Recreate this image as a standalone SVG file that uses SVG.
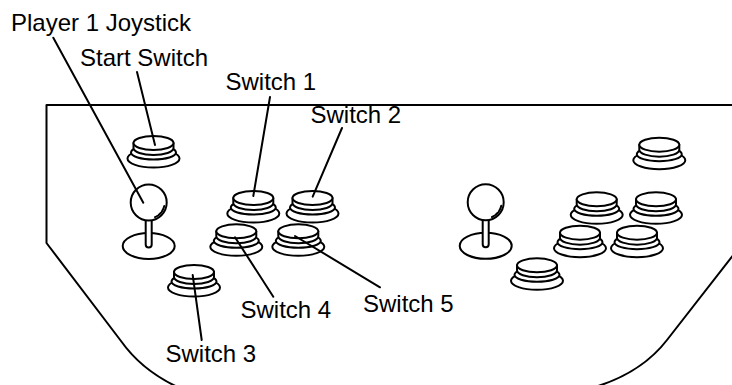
<svg xmlns="http://www.w3.org/2000/svg" xmlns:xlink="http://www.w3.org/1999/xlink" width="732" height="385" viewBox="0 0 732 385">
<style>
.ln{fill:none;stroke:#000;stroke-width:2;stroke-linecap:round;stroke-linejoin:round}
.sh{fill:#fff;stroke:#000;stroke-width:2;stroke-linejoin:round}
.lbl{font-family:"Liberation Sans",Arial,Helvetica,sans-serif;font-size:24px;fill:#000}
</style>
<defs>
<g id="button">
<ellipse class="sh" cx="0" cy="15.5" rx="26" ry="9"/>
<ellipse class="sh" cx="0" cy="9.5" rx="22.5" ry="7"/>
<path class="sh" d="M-20,0 V5 A20,7 0 0 0 20,5 V0 Z"/>
<ellipse class="sh" cx="0" cy="0" rx="20" ry="7"/>
</g>
<g id="joystick">
<ellipse class="sh" cx="0" cy="43.5" rx="26" ry="13"/>
<path class="sh" d="M-3,14 V42 A3,3 0 0 0 3,42 V14 Z"/>
<circle class="sh" cx="0" cy="0" r="18"/>
<path class="ln" d="M15.6,3.4 A16,16 0 0 1 6.3,14.7" stroke-dasharray="6 1.5 3 1.5" stroke-linecap="butt" stroke-width="2.2"/>
</g>
</defs>
<rect width="732" height="385" fill="#fff"/>
<g id="panel">
<path class="ln" d="M740,105 H46.5 V243 L121,341 Q143,372 182,389"/>
<path class="ln" d="M738,249 L667,340 Q640,375 588,389"/>
</g>
<g id="joystick1" transform="translate(148.7,202.5)"><use xlink:href="#joystick"/></g>
<g id="joystick2" transform="translate(485.7,202.3)"><use xlink:href="#joystick"/></g>
<g id="start-switch" transform="translate(153.5,143)"><use xlink:href="#button"/></g>
<g id="switch1" transform="translate(253.3,198)"><use xlink:href="#button"/></g>
<g id="switch2" transform="translate(312.5,198)"><use xlink:href="#button"/></g>
<g id="switch4" transform="translate(236.3,231.3)"><use xlink:href="#button"/></g>
<g id="switch5" transform="translate(298.3,231.3)"><use xlink:href="#button"/></g>
<g id="switch3" transform="translate(194,272)"><use xlink:href="#button"/></g>
<g id="p2-start" transform="translate(659.3,144.7)"><use xlink:href="#button"/></g>
<g id="p2-switch1" transform="translate(596.7,199.3)"><use xlink:href="#button"/></g>
<g id="p2-switch2" transform="translate(656,199.3)"><use xlink:href="#button"/></g>
<g id="p2-switch4" transform="translate(580,232.7)"><use xlink:href="#button"/></g>
<g id="p2-switch5" transform="translate(637,232.7)"><use xlink:href="#button"/></g>
<g id="p2-switch3" transform="translate(537,265.3)"><use xlink:href="#button"/></g>
<g id="connectors">
<line class="ln" x1="53.3" y1="37.7" x2="143.3" y2="202.7"/>
<line class="ln" x1="137" y1="72" x2="155" y2="145"/>
<line class="ln" x1="270" y1="97" x2="253.3" y2="196"/>
<line class="ln" x1="342" y1="128" x2="312.7" y2="196.7"/>
<line class="ln" x1="235" y1="237.3" x2="273.3" y2="296.7"/>
<line class="ln" x1="295" y1="236" x2="380" y2="287.3"/>
<line class="ln" x1="192.7" y1="275" x2="201.7" y2="340"/>
</g>
<g id="labels">
<text class="lbl" x="11" y="31">Player 1 Joystick</text>
<text class="lbl" x="80" y="66">Start Switch</text>
<text class="lbl" x="225.5" y="90">Switch 1</text>
<text class="lbl" x="310.5" y="122.5">Switch 2</text>
<text class="lbl" x="240.5" y="318">Switch 4</text>
<text class="lbl" x="363" y="311.5">Switch 5</text>
<text class="lbl" x="165.5" y="361.5">Switch 3</text>
</g>
</svg>
